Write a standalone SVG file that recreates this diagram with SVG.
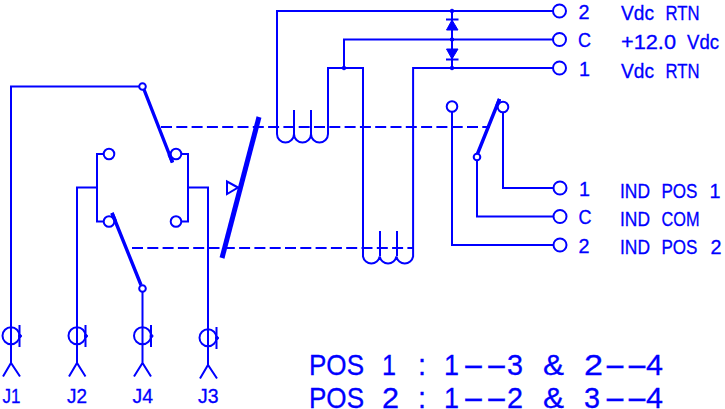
<svg xmlns="http://www.w3.org/2000/svg" width="725" height="409" viewBox="0 0 725 409">
<style>
.w{fill:none;stroke:#0000ff;stroke-width:2;stroke-linejoin:miter}
.d{fill:none;stroke:#0000ff;stroke-width:2;stroke-dasharray:11 4.3}
.b{fill:none;stroke:#0000ff;stroke-width:3.4}
.c{fill:#fff;stroke:#0000ff;stroke-width:2}
.f{fill:#0000ff;stroke:#0000ff;stroke-width:1}
text{font-family:"Liberation Sans",Arial,sans-serif;fill:#0000ff;stroke:#0000ff;stroke-width:.3}
.s{font-size:20px}
.j{font-size:20px}
.p{font-size:30px}
</style>
<rect width="725" height="409" fill="#fff"/>
<g id="connectors">
<path class="w" d="M553 11H277V134a8.5 8.5 0 0 0 17 0a8.500 8.500 0 0 0 17 0a8.500 8.500 0 0 0 17 0V68H363V256.500a8.500 8.500 0 0 0 16.700 0a8.500 8.500 0 0 0 16.700 0a8.500 8.500 0 0 0 16.700 0V68H553"/>
<path class="w" d="M294 110V134M311 110V134M380 231V256M397 231V256"/>
<path class="w" d="M553 39.500H344V68M452 11V68"/>
<path class="w" d="M139 86.500H11V327M77 327V187.500H97M104 154H97V221.500H104M181 154H188V221.500H181M188 187.500H208V327"/>
<path class="w" d="M142.500 291V327M503 112V188H553.500M477 160V216.500H553.500M452 112V245H553.500"/>
<path class="d" d="M161 127H490M132 248H413"/>
<path class="b" d="M144 89.500L172.500 162.500M112 213L141 285M477 155L499.500 99"/>
<path d="M259 117L222 258" fill="none" stroke="#0000ff" stroke-width="5"/>
<path class="w" d="M238 187.500L227 181.500V194Z"/>
</g>
<g id="diodes">
<path class="f" d="M446.500 30H458L452 20Z"/><path class="w" d="M446 19.500H458.500"/>
<path class="f" d="M446.500 49H458L452 59Z"/><path class="w" d="M446 59.500H458.500"/>
<circle class="f" cx="452" cy="11" r="1.800"/><circle class="f" cx="452" cy="39.500" r="1.800"/><circle class="f" cx="452" cy="68" r="1.800"/><circle class="f" cx="344" cy="68" r="1.800"/>
</g>
<g id="contacts">
<circle class="c" cx="142.500" cy="86.500" r="3.300"/><circle class="c" cx="142.500" cy="288.500" r="3.300"/><circle class="c" cx="477" cy="157" r="3.300"/>
<circle class="c" cx="109" cy="154" r="5.300"/><circle class="c" cx="176" cy="154" r="5.300"/><circle class="c" cx="109" cy="221.500" r="5.300"/><circle class="c" cx="176" cy="221.500" r="5.300"/>
<circle class="c" cx="452" cy="106.500" r="5.300"/><circle class="c" cx="503" cy="107" r="5.300"/>
<path class="b" d="M172.500 162.500L169 154M112 213L115.500 221.500M499.500 99L497 105.500"/>
</g>
<g id="term-vdc-2"><circle class="c" cx="559.500" cy="11" r="6.500"/><text class="s" x="578.500" y="18.500" textLength="11" lengthAdjust="spacingAndGlyphs">2</text><text class="s" y="20"><tspan x="621" textLength="33" lengthAdjust="spacingAndGlyphs">Vdc</tspan> <tspan x="665.500" textLength="34" lengthAdjust="spacingAndGlyphs">RTN</tspan></text></g>
<g id="term-vdc-c"><circle class="c" cx="559.500" cy="39.500" r="6.500"/><text class="s" x="578" y="47" textLength="13" lengthAdjust="spacingAndGlyphs">C</text><text class="s" y="49"><tspan x="621" textLength="55" lengthAdjust="spacingAndGlyphs">+12.0</tspan> <tspan x="687" textLength="32" lengthAdjust="spacingAndGlyphs">Vdc</tspan></text></g>
<g id="term-vdc-1"><circle class="c" cx="559.500" cy="68" r="6.500"/><text class="s" x="579" y="76" textLength="11" lengthAdjust="spacingAndGlyphs">1</text><text class="s" y="77.500"><tspan x="621" textLength="33" lengthAdjust="spacingAndGlyphs">Vdc</tspan> <tspan x="665.500" textLength="34" lengthAdjust="spacingAndGlyphs">RTN</tspan></text></g>
<g id="term-ind-1"><circle class="c" cx="560" cy="188" r="6.500"/><text class="s" x="579" y="195.500" textLength="11" lengthAdjust="spacingAndGlyphs">1</text><text class="s" y="197.500"><tspan x="620" textLength="30" lengthAdjust="spacingAndGlyphs">IND</tspan> <tspan x="661.500" textLength="36" lengthAdjust="spacingAndGlyphs">POS</tspan> <tspan x="709.500" textLength="11" lengthAdjust="spacingAndGlyphs">1</tspan></text></g>
<g id="term-ind-c"><circle class="c" cx="560" cy="216.500" r="6.500"/><text class="s" x="578.500" y="224" textLength="13" lengthAdjust="spacingAndGlyphs">C</text><text class="s" y="225.500"><tspan x="620" textLength="30" lengthAdjust="spacingAndGlyphs">IND</tspan> <tspan x="661.500" textLength="38" lengthAdjust="spacingAndGlyphs">COM</tspan></text></g>
<g id="term-ind-2"><circle class="c" cx="560" cy="245" r="6.500"/><text class="s" x="578.500" y="253" textLength="11" lengthAdjust="spacingAndGlyphs">2</text><text class="s" y="254"><tspan x="620" textLength="30" lengthAdjust="spacingAndGlyphs">IND</tspan> <tspan x="661.500" textLength="36" lengthAdjust="spacingAndGlyphs">POS</tspan> <tspan x="710.500" textLength="11" lengthAdjust="spacingAndGlyphs">2</tspan></text></g>
<g id="J1"><path class="w" d="M11 327V363M3 376.500L11 363L20 376.500M19.500 325V347"/><circle class="w" cx="11" cy="335.700" r="8.500"/><circle class="f" cx="20" cy="336" r="1.500"/><text class="j" x="2.500" y="402.500" textLength="18" lengthAdjust="spacingAndGlyphs">J1</text></g>
<g id="J2"><path class="w" d="M77 327V363M69 376.500L77 363L85.500 376.500M85.500 325V347"/><circle class="w" cx="77" cy="335.700" r="8.500"/><circle class="f" cx="86" cy="336" r="1.500"/><text class="j" x="67" y="402.500" textLength="20" lengthAdjust="spacingAndGlyphs">J2</text></g>
<g id="J4"><path class="w" d="M142.500 327V363M134 376.500L142.500 363L151 376.500M151 325V347"/><circle class="w" cx="142.500" cy="335.700" r="8.500"/><circle class="f" cx="151.500" cy="336" r="1.500"/><text class="j" x="132.500" y="402.500" textLength="20.500" lengthAdjust="spacingAndGlyphs">J4</text></g>
<g id="J3"><path class="w" d="M208 327V365M200 378.500L208 365L217 378.500M216.500 327V349"/><circle class="w" cx="208" cy="337.700" r="8.500"/><circle class="f" cx="217" cy="338" r="1.500"/><text class="j" x="198" y="402.500" textLength="20.500" lengthAdjust="spacingAndGlyphs">J3</text></g>
<g id="legend">
<text class="p" y="375"><tspan x="309" textLength="55" lengthAdjust="spacingAndGlyphs">POS</tspan> <tspan x="382" textLength="14" lengthAdjust="spacingAndGlyphs">1</tspan> <tspan x="418" textLength="8" lengthAdjust="spacingAndGlyphs">:</tspan> <tspan x="444" textLength="15" lengthAdjust="spacingAndGlyphs">1</tspan><tspan x="462.500" textLength="22" lengthAdjust="spacingAndGlyphs">-</tspan><tspan x="485.500" textLength="22" lengthAdjust="spacingAndGlyphs">-</tspan><tspan x="507" textLength="16" lengthAdjust="spacingAndGlyphs">3</tspan> <tspan x="543" textLength="21" lengthAdjust="spacingAndGlyphs">&amp;</tspan> <tspan x="584" textLength="19" lengthAdjust="spacingAndGlyphs">2</tspan><tspan x="604" textLength="22" lengthAdjust="spacingAndGlyphs">-</tspan><tspan x="626" textLength="22" lengthAdjust="spacingAndGlyphs">-</tspan><tspan x="646" textLength="17" lengthAdjust="spacingAndGlyphs">4</tspan></text>
<text class="p" y="408"><tspan x="309" textLength="55" lengthAdjust="spacingAndGlyphs">POS</tspan> <tspan x="382" textLength="17" lengthAdjust="spacingAndGlyphs">2</tspan> <tspan x="418" textLength="8" lengthAdjust="spacingAndGlyphs">:</tspan> <tspan x="444" textLength="15" lengthAdjust="spacingAndGlyphs">1</tspan><tspan x="462.500" textLength="22" lengthAdjust="spacingAndGlyphs">-</tspan><tspan x="485.500" textLength="22" lengthAdjust="spacingAndGlyphs">-</tspan><tspan x="507" textLength="16" lengthAdjust="spacingAndGlyphs">2</tspan> <tspan x="543" textLength="21" lengthAdjust="spacingAndGlyphs">&amp;</tspan> <tspan x="584" textLength="16" lengthAdjust="spacingAndGlyphs">3</tspan><tspan x="604" textLength="22" lengthAdjust="spacingAndGlyphs">-</tspan><tspan x="626" textLength="22" lengthAdjust="spacingAndGlyphs">-</tspan><tspan x="646" textLength="17" lengthAdjust="spacingAndGlyphs">4</tspan></text>
</g>
</svg>
